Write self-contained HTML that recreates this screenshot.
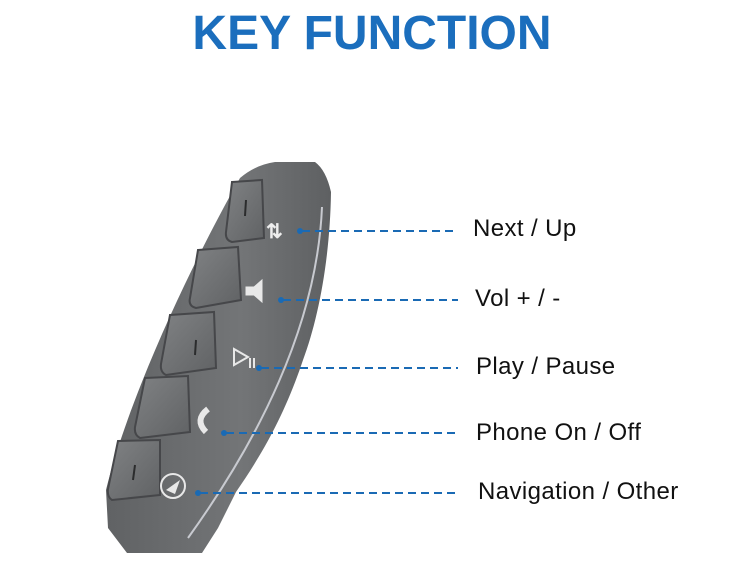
<!DOCTYPE html>
<html><head><style>
body{margin:0;width:754px;height:566px;background:#fff;overflow:hidden;position:relative;font-family:"Liberation Sans",sans-serif}
.t{position:absolute;left:0;width:744px;top:6px;text-align:center;font-size:48px;font-weight:bold;color:#1b6ebd}
.l{position:absolute;font-size:24px;letter-spacing:0.4px;color:#111}
</style></head><body>
<div class="t">KEY FUNCTION</div>
<svg width="754" height="566" style="position:absolute;left:0;top:0">
<defs>
<linearGradient id="g" x1="0" y1="0" x2="1" y2="0">
<stop offset="0" stop-color="#606264"/><stop offset="0.6" stop-color="#737577"/><stop offset="1" stop-color="#5e6062"/></linearGradient>
<linearGradient id="b" x1="0" y1="0" x2="1" y2="1">
<stop offset="0" stop-color="#808284"/><stop offset="1" stop-color="#606264"/></linearGradient>
</defs>
<path d="M240,178 Q255,165 275,162 L315,162 Q326,170 331,192 C330,260 318,320 303,360 C283,420 258,460 236,492 L218,528 L202,553 L127,553 L108,528 L106,490 C128,400 188,270 240,178 Z" fill="url(#g)"/>
<g stroke="#46474a" stroke-width="2" fill="url(#b)">
<path d="M232,182 L262,180 L264,238 L232,242 Q225,240 226,232 Z"/>
<path d="M198,250 L238,247 L241,300 L196,308 Q188,306 190,298 Z"/>
<path d="M170,315 L214,312 L216,368 L166,375 Q160,372 161,364 Z"/>
<path d="M145,378 L188,376 L190,432 L140,438 Q134,435 135,427 Z"/>
<path d="M118,441 L160,440 L160,495 L112,500 Q107,497 108,489 Z"/>
</g>
<g stroke="#2b2c2d" stroke-width="2"><line x1="246" y1="200" x2="245" y2="216"/><line x1="196" y1="340" x2="195" y2="355"/><line x1="135" y1="465" x2="133" y2="480"/></g>
<path d="M322,207 C318,300 280,410 188,538" stroke="#c8cad0" stroke-width="2" fill="none"/>
<g fill="#e8e8e8" stroke="#e8e8e8">
<text x="266" y="238" font-size="20" font-weight="bold" fill="#eee" stroke="none">⇅</text>
<path d="M246,287 L254,287 L262,280 L262,302 L254,295 L246,295 Z"/>
<path d="M234,349 L234,365 L248,357 Z" fill="none" stroke-width="2"/>
<line x1="250" y1="358" x2="250" y2="368" stroke-width="2"/><line x1="254" y1="358" x2="254" y2="368" stroke-width="2"/>
<path d="M208,409 Q194,420 206,432" fill="none" stroke-width="6"/>
<circle cx="173" cy="486" r="12" fill="none" stroke-width="2"/>
<path d="M166,490 L180,480 L175,494 Z" stroke="none"/>
</g>
<g stroke="#1a6ab4" stroke-width="2" stroke-dasharray="8,5">
<line x1="302" y1="231" x2="458" y2="231"/>
<line x1="283" y1="300" x2="458" y2="300"/>
<line x1="261" y1="368" x2="458" y2="368"/>
<line x1="226" y1="433" x2="458" y2="433"/>
<line x1="200" y1="493" x2="458" y2="493"/>
</g>
<g fill="#1a6ab4"><circle cx="300" cy="231" r="3"/><circle cx="281" cy="300" r="3"/><circle cx="259" cy="368" r="3"/><circle cx="224" cy="433" r="3"/><circle cx="198" cy="493" r="3"/></g>
</svg>
<div class="l" style="left:473px;top:215px">Next / Up</div>
<div class="l" style="left:475px;top:285px">Vol + / -</div>
<div class="l" style="left:476px;top:353px">Play / Pause</div>
<div class="l" style="left:476px;top:419px">Phone On / Off</div>
<div class="l" style="left:478px;top:478px">Navigation / Other</div>
</body></html>
